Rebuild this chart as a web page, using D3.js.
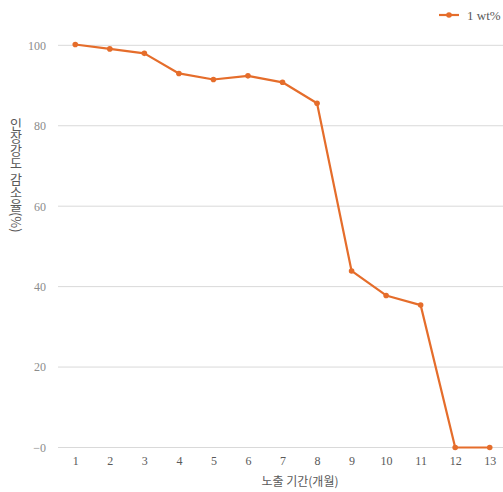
<!DOCTYPE html>
<html><head><meta charset="utf-8">
<script src="https://cdn.jsdelivr.net/npm/d3@7"></script>
<style>body{margin:0;background:#fff;}svg{display:block;}</style>
</head><body>
<script>
const months = [1,2,3,4,5,6,7,8,9,10,11,12,13];
const values = [100.2,99.1,98.0,93.0,91.5,92.4,90.8,85.6,43.9,37.8,35.4,0,0];
const yTicks = [0,20,40,60,80,100];
const yTickLabels = ["−0","20","40","60","80","100"];
const seriesName = "1 wt%";
const xTitle = "노출 기간(개월)";
const yTitle = "인장강도 감소율(%)";

const W=503,H=492, color="#E56D2B";
const svg=d3.select("body").append("svg").attr("width",W).attr("height",H);
const x=d3.scalePoint().domain(months).range([58,507]).padding(0.5);
const y=d3.scaleLinear().domain([0,100]).range([447.5,45.3]);
const serif="'Liberation Serif','DejaVu Serif',serif";

svg.append("g").selectAll("line").data(yTicks).join("line")
 .attr("x1",58).attr("x2",W).attr("y1",d=>y(d)).attr("y2",d=>y(d))
 .attr("stroke","#d9d9d9").attr("stroke-width",1);

const yAxis=d3.axisLeft(y).tickValues(yTicks).tickSize(0).tickPadding(0)
 .tickFormat((d,i)=>yTickLabels[i]);
const gy=svg.append("g").attr("transform","translate(46,0)").call(yAxis);
gy.select(".domain").remove();
gy.selectAll("text").attr("fill","#8c8c8c").style("font-family",serif).style("font-size","12px");

const xAxis=d3.axisBottom(x).tickSize(0).tickPadding(0);
const gx=svg.append("g").attr("transform","translate(0,456)").call(xAxis);
gx.select(".domain").remove();
gx.selectAll("text").attr("fill","#595959").style("font-family",serif).style("font-size","12px");

const line=d3.line().x((d,i)=>x(months[i])).y(d=>y(d));
svg.append("path").datum(values).attr("d",line).attr("fill","none")
 .attr("stroke",color).attr("stroke-width",2.2).attr("stroke-linejoin","round");
svg.append("g").selectAll("circle").data(values).join("circle")
 .attr("cx",(d,i)=>x(months[i])).attr("cy",d=>y(d)).attr("r",2.8).attr("fill",color);

// legend
svg.append("line").attr("x1",439).attr("x2",459).attr("y1",15).attr("y2",15).attr("stroke",color).attr("stroke-width",2.2);
svg.append("circle").attr("cx",449).attr("cy",15).attr("r",2.8).attr("fill",color);
svg.append("text").attr("x",467).attr("y",19.5).text(seriesName)
 .attr("fill","#595959").style("font-family",serif).style("font-size","13px");

// titles
svg.append("text").attr("x",300).attr("y",486).attr("text-anchor","middle").text(xTitle)
 .attr("fill","#595959").style("font-family","'Noto Sans CJK KR',sans-serif").style("font-size","12px");
svg.append("text").attr("transform","translate(16,118)")
 .attr("text-anchor","start")
 .style("writing-mode","vertical-rl").style("text-orientation","mixed")
 .attr("fill","#595959").style("font-family","'Noto Sans CJK KR',sans-serif").style("font-size","13px")
 .text(yTitle);
</script>
</body></html>
